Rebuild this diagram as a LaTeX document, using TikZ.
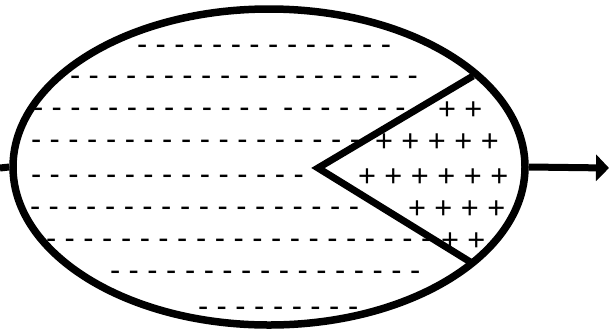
\documentclass[tikz,border=0pt]{standalone}
\usepackage{fontspec}
\setmainfont{Liberation Sans}
\usetikzlibrary{shapes.geometric,arrows.meta}
\begin{document}
\begin{tikzpicture}[x=1pt,y=-1pt,
  txt/.style={anchor=base west,inner sep=0pt,outer sep=0pt,font=\fontsize{30.7}{36}\selectfont},
  heavy/.style={line width=7pt}]
\useasboundingbox (0,0) rectangle (610,333);
% dash rows (ink start x - 2, dash y + 7.8)
\node[txt] (d1) at (137,54.8) {- - - - - - - - - - - - - -};
\node[txt] (d2) at (70,85.8) {- - - - - - - - - - - - - - - - - - -};
\node[txt] (d3a) at (33,117.8) {- - - - - - - - - - - - -};
\node[txt] (d3b) at (283,117.8) {- - - - - - -};
\node[txt] (d4) at (31,149.8) {- - - - - - - - - - - - - - - - - -};
\node[txt] (d5) at (31,184.8) {- - - - - - - - - - - - - - -};
\node[txt] (d6) at (30,216.8) {- - - - - - - - - - - - - - - - - -};
\node[txt] (d7) at (46,248.8) {- - - - - - - - - - - - - - - - - - - - -};
\node[txt] (d8) at (110,280.8) {- - - - - - - - - - - - - - - - -};
\node[txt] (d9) at (198,316.8) {- - - - - - - - -};
% plus rows (first centre x - 9, y + 9.5)
\node[txt] (p3) at (438,119.5) {+ +};
\node[txt] (p4) at (375,151.5) {+ + + + +};
\node[txt] (p5) at (358,186.5) {+ + + + + +};
\node[txt] (p6) at (408,218.5) {+ + + +};
\node[txt] (p7) at (441,250.5) {+ +};
% ellipse
\node[draw,ellipse,line width=7.5pt,minimum width=512pt,minimum height=316pt,inner sep=0pt] (E) at (269,167) {};
% wedge
\coordinate (V) at (318,168);
\coordinate (A) at (473,76);
\coordinate (B) at (472,263);
\draw[heavy,line join=miter] (A) -- (V) -- (B);
% in/out lines
\coordinate (L) at (0,168);
\coordinate (R) at (609,168);
\draw[heavy] (L) -- (E.west);
\draw[heavy,-{Triangle[length=13pt,width=26pt]}] (E.east) -- (R);
\end{tikzpicture}
\end{document}
